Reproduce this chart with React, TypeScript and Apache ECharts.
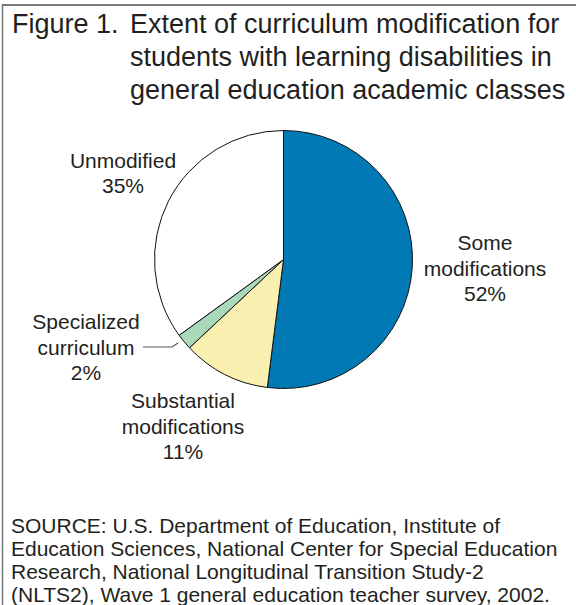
import React, { useEffect, useRef } from "react";
import * as echarts from "echarts";

const categories = [
  "Some\nmodifications",
  "Substantial\nmodifications",
  "Specialized\ncurriculum",
  "Unmodified",
];
const percents = [52, 11, 2, 35];
const sliceColors = ["#0079B4", "#F8EFB0", "#A9D9B9", "#FFFFFF"];
const titleLines = [
  "Extent of curriculum modification for",
  "students with learning disabilities in",
  "general education academic classes",
];
const sourceLines = [
  "SOURCE: U.S. Department of Education, Institute of",
  "Education Sciences, National Center for Special Education",
  "Research, National Longitudinal Transition Study-2",
  "(NLTS2), Wave 1 general education teacher survey, 2002.",
];
// label anchor (center of text block) per slice
const labelPos = [
  [485, 268],
  [183, 426],
  [86, 347],
  [123, 173],
];

const FONT = "'Liberation Sans', Arial, Helvetica, sans-serif";
const TXT = "#231F20";

export default function App() {
  const ref = useRef<HTMLDivElement>(null);
  useEffect(() => {
    const chart = echarts.init(ref.current!, null, { renderer: "svg" });
    const graphics: any[] = [
      { type: "line", shape: { x1: 2, y1: 5, x2: 576, y2: 5 }, style: { stroke: "#7A7A7A", lineWidth: 2 } },
      { type: "line", shape: { x1: 2.5, y1: 4, x2: 2.5, y2: 605 }, style: { stroke: "#7A7A7A", lineWidth: 1.5 } },
      {
        type: "text",
        x: 12,
        y: 24,
        style: { text: "Figure 1.", font: `27px ${FONT}`, fill: TXT, verticalAlign: "middle" },
      },
      ...titleLines.map((t, i) => ({
        type: "text",
        x: 130,
        y: 24 + i * 33,
        style: { text: t, font: `27px ${FONT}`, fill: TXT, verticalAlign: "middle" },
      })),
      ...sourceLines.map((t, i) => ({
        type: "text",
        x: 11,
        y: 525 + i * 23,
        style: { text: t, font: `21px ${FONT}`, fill: TXT, verticalAlign: "middle" },
      })),
      {
        type: "polyline",
        shape: { points: [[143, 347], [172, 347], [178, 343]] },
        style: { stroke: "#555", lineWidth: 1.2, fill: null },
      },
    ];
    chart.setOption({
      animation: false,
      backgroundColor: "#FFFFFF",
      graphic: graphics,
      series: [
        {
          type: "pie",
          center: [283.5, 259.5],
          radius: [0, 129],
          startAngle: 90,
          clockwise: true,
          avoidLabelOverlap: false,
          data: categories.map((name, i) => ({
            name,
            value: percents[i],
            itemStyle: { color: sliceColors[i] },
          })),
          itemStyle: { borderColor: "#111", borderWidth: 1 },
          label: {
            show: true,
            formatter: "{b}\n{c}%",
            fontFamily: FONT,
            fontSize: 21,
            lineHeight: 25.5,
            color: TXT,
            align: "center",
          },
          labelLine: { show: false },
          labelLayout: (params: any) => {
            const p = labelPos[params.dataIndex];
            return { x: p[0], y: p[1], align: "center", verticalAlign: "middle" };
          },
        },
      ],
    });
    return () => chart.dispose();
  }, []);
  return (
    <div
      ref={ref}
      style={{ position: "absolute", left: 0, top: 0, width: 576, height: 605 }}
    />
  );
}
